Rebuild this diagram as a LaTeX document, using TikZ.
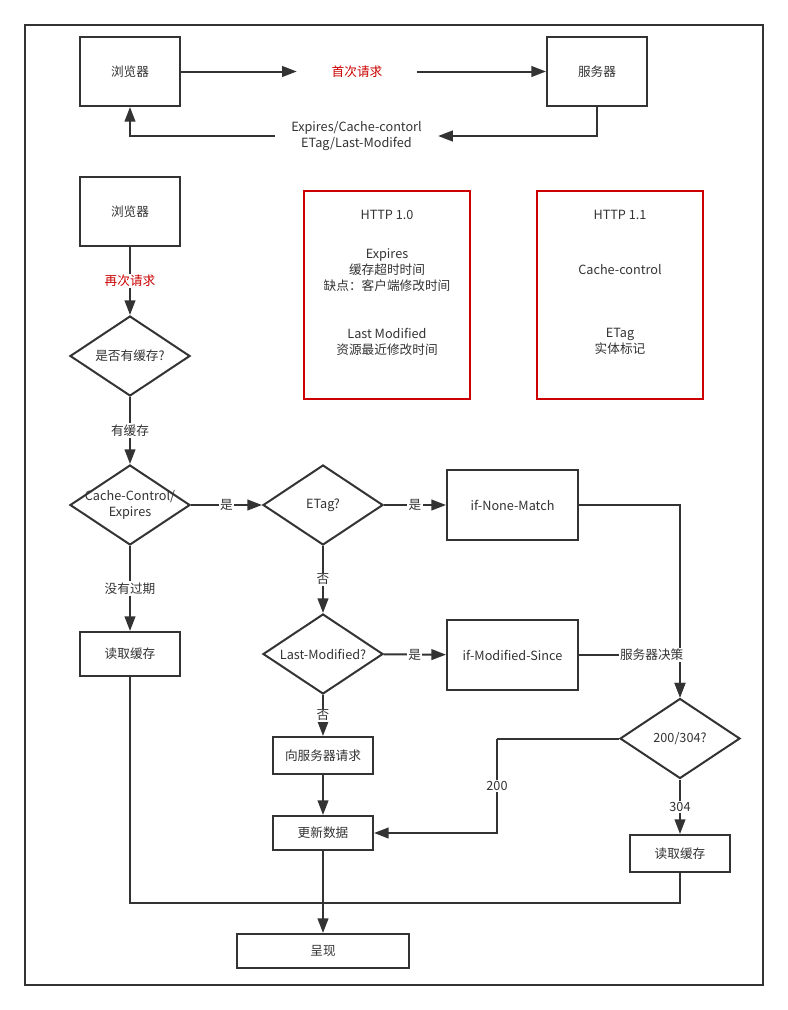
\documentclass[tikz,border=0pt]{standalone}
\usepackage{fontspec}
\setmainfont{Noto Sans CJK SC}
\usetikzlibrary{shapes.geometric,arrows.meta}
\definecolor{darkline}{HTML}{333333}
\definecolor{alertred}{HTML}{CC0000}

\begin{document}
\begin{tikzpicture}[x=0.75pt, y=-0.75pt,
        every node/.style={font=\fontsize{9.5}{12}\selectfont, text=darkline},
        box/.style={draw=darkline, line width=1.5pt, fill=white, inner sep=0pt,
          minimum width=75pt, minimum height=51.75pt},
        infobox/.style={draw=alertred, line width=1.5pt, minimum width=124.5pt, minimum height=156pt},
        decision/.style={diamond, draw=darkline, line width=1.5pt, fill=white, inner sep=0pt,
          minimum width=90pt, minimum height=60pt, label={[align=center]center:#1}},
        tag/.style={fill=white, inner sep=1pt},
        connector/.style={draw=darkline, line width=1.5pt},
        arrow/.style={connector, -{Triangle[length=11pt,width=8pt]}}]

        \useasboundingbox (0,0) rectangle (788,1010);
        \draw [connector] (25,25) rectangle (763,985);

        % first request
        \node [box] (browser) at (130,71.5) {浏览器};
        \node [box] (server) at (597,71.5) {服务器};
        \node [inner sep=0pt, minimum width=90pt, text=alertred] (firstreq) at (357,71.5) {首次请求};
        \node [inner sep=0pt, minimum width=122pt, align=center] (reply) at (356.5,136) {Expires/Cache-contorl\\ETag/Last-Modifed};

        \draw [arrow] (browser) -- (firstreq);
        \draw [arrow] (firstreq) -- (server);
        \draw [arrow] (server.south) |- (reply);
        \draw [arrow] (reply) -| (browser.south);

        % notes
        \node [infobox] (http10) at (387,295) {};
        \node (title10) at (387,215) {HTTP 1.0};
        \node [align=center] (expires10) at (387,270) {Expires\\缓存超时时间\\缺点：客户端修改时间};
        \node [align=center] (lastmod10) at (387,342) {Last Modified\\资源最近修改时间};
        \node [infobox] (http11) at (620,295) {};
        \node (title11) at (620,215) {HTTP 1.1};
        \node (cachectl11) at (620,270) {Cache-control};
        \node [align=center] (etag11) at (620,341) {ETag\\实体标记};

        % second request
        \node [box] (browser2) at (130,211.5) {浏览器};
        \node [decision={是否有缓存?}] (hascache) at (130,356) {};
        \node [decision={Cache-Control/\\Expires}] (expired) at (130,505) {};
        \node [decision={ETag?}] (etag) at (323,505) {};
        \node [decision={Last-Modified?}] (lastmod) at (323,654) {};
        \node [decision={200/304?}] (status) at (680,738.5) {};

        \node [box, minimum width=98.25pt, minimum height=52.5pt] (nonematch) at (512.5,505) {if-None-Match};
        \node [box, minimum width=98.25pt, minimum height=52.5pt] (modsince) at (512.5,655) {if-Modified-Since};
        \node [box, minimum height=33pt] (readcache) at (130,654) {读取缓存};
        \node [box, minimum height=27.75pt] (askserver) at (323,755.5) {向服务器请求};
        \node [box, minimum height=25.5pt] (update) at (323,833) {更新数据};
        \node [box, minimum height=27.75pt] (readcache2) at (680,853.5) {读取缓存};
        \node [box, minimum width=129pt, minimum height=25.5pt] (render) at (323,951) {呈现};
        \coordinate (turn) at (497,738.5);
        \coordinate (merge) at (323,903);

        \draw [arrow] (browser2) -- node[tag, text=alertred] {再次请求} (hascache);
        \draw [arrow] (hascache) -- node[tag] {有缓存} (expired);
        \draw [arrow] (expired) -- node[tag] {是} (etag);
        \draw [arrow] (etag) -- node[tag] {是} (nonematch);
        \draw [arrow] (etag) -- node[tag] {否} (lastmod);
        \draw [arrow] (lastmod) -- node[tag] {是} (modsince);
        \draw [arrow] (lastmod) -- node[tag] {否} (askserver);
        \draw [arrow] (askserver) -- (update);
        \draw [arrow] (update) -- (render);
        \draw [arrow] (expired) -- node[tag] {没有过期} (readcache);
        \draw [arrow] (nonematch) -| (status);
        \draw [arrow] (modsince) -| node[tag, pos=0.36] {服务器决策} (status);
        \draw [connector] (status) -- (turn);
        \draw [arrow] (turn) |- node[tag, pos=0.25] {200} (update);
        \draw [arrow] (status) -- node[tag] {304} (readcache2);
        \draw [connector] (readcache) |- (merge);
        \draw [connector] (readcache2) |- (merge);
\end{tikzpicture}
\end{document}
